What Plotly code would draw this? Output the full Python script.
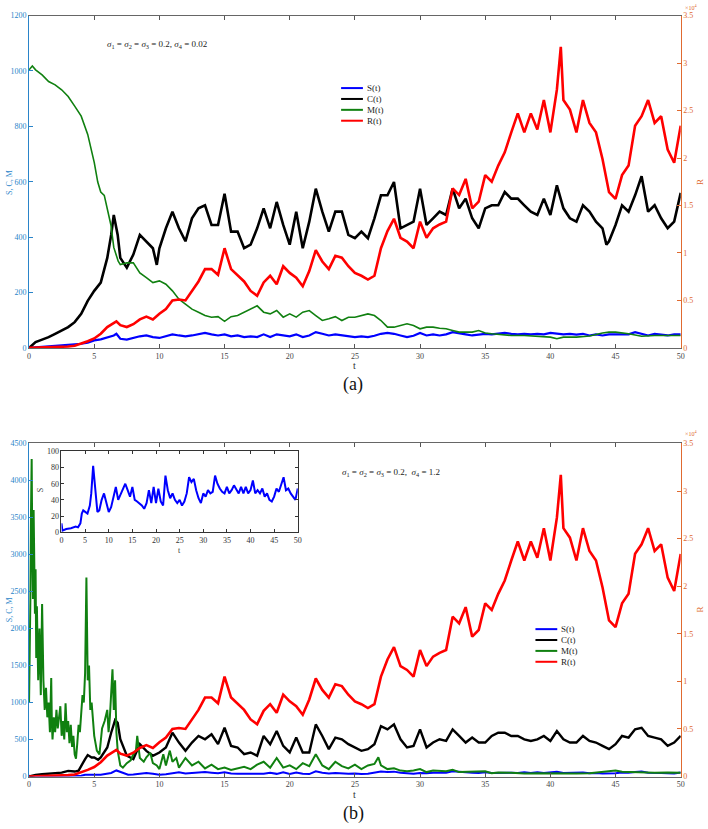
import plotly.graph_objects as go

# ---------------- data ----------------
# Panel (a): sigma4 = 0.02
S_a = [(0,0),(1,4),(2,6),(3,10),(4,15),(4.5,19),(5,27),(5.5,31),(6,37),(6.5,45),(6.7,51),(7,33),(7.5,30),(8,37),(8.5,42),(9,45),(9.5,39),(10,36),(10.5,42),(11,49),(11.5,45),(12,42),(12.5,45),(13,49),(13.5,54),(14,49),(14.5,45),(15,49),(15.5,42),(16,45),(16.5,39),(17,42),(17.5,39),(18,49),(18.5,39),(19,49),(19.5,45),(20,42),(20.5,49),(21,39),(21.5,45),(22,57),(22.5,51),(23,45),(23.5,49),(24,45),(24.5,42),(25,39),(25.5,42),(26,39),(26.5,44),(27,51),(27.5,54),(28,51),(28.5,45),(29,39),(29.5,44),(30,54),(30.5,45),(31,49),(31.5,45),(32,49),(32.5,57),(33,54),(33.5,49),(34,45),(34.5,49),(35,51),(35.5,49),(36,51),(36.5,54),(37,51),(37.5,49),(38,51),(38.5,49),(39,51),(39.5,49),(40,54),(40.5,51),(41,49),(41.5,51),(42,48),(42.5,51),(43,45),(43.5,49),(44,45),(44.5,49),(45,49),(45.5,51),(46,49),(46.5,57),(47,51),(47.5,45),(48,51),(48.5,49),(49,45),(49.5,49),(50,49)]

C_a = [(0,0),(0.5,21),(1,30),(1.5,39),(2,51),(2.5,63),(3,75),(3.5,93),(4,123),(4.5,170),(5,206),(5.5,236),(6,325),(6.3,408),(6.5,480),(6.8,408),(7,325),(7.5,290),(8,337),(8.5,408),(9,385),(9.5,360),(9.8,300),(10,360),(10.5,432),(11,492),(11.5,432),(12,385),(12.5,468),(13,504),(13.5,515),(14,444),(14.5,444),(15,557),(15.5,420),(16,420),(16.5,360),(17,373),(17.5,432),(18,504),(18.5,432),(19,527),(19.5,444),(20,373),(20.5,492),(21,360),(21.5,456),(22,575),(22.5,492),(23,420),(23.5,492),(24,492),(24.5,408),(25,396),(25.5,420),(26,396),(26.5,468),(27,551),(27.5,551),(28,599),(28.5,432),(29,444),(29.5,456),(30,575),(30.5,444),(31,468),(31.5,492),(32,480),(32.5,575),(33,504),(33.5,539),(34,468),(34.5,432),(35,504),(35.5,515),(36,515),(36.5,563),(37,539),(37.5,539),(38,515),(38.5,492),(39,480),(39.5,539),(40,480),(40.5,587),(41,504),(41.5,468),(42,456),(42.5,515),(43,492),(43.5,456),(44,432),(44.3,373),(44.5,385),(45,444),(45.5,515),(46,492),(46.5,551),(47,620),(47.5,492),(48,515),(48.5,468),(49,432),(49.5,456),(50,560)]

M_a = [(0,1004),(0.25,1018),(0.5,1004),(1,986),(1.5,962),(2,950),(2.5,932),(3,908),(3.5,873),(4,837),(4.5,771),(5,670),(5.27,599),(5.5,563),(5.77,551),(6.28,444),(6.5,363),(6.84,313),(7,301),(7.5,307),(8,307),(8.5,271),(9,254),(9.5,236),(10,242),(10.5,230),(11,206),(11.5,176),(12,158),(12.5,140),(13,129),(13.5,117),(14,111),(14.5,113),(15,96),(15.5,113),(16,117),(16.5,129),(17,140),(17.5,152),(18,129),(18.5,123),(19,135),(19.5,111),(20,123),(20.5,111),(21,129),(21.5,135),(22,117),(22.5,99),(23,105),(23.5,113),(24,99),(24.5,111),(25,111),(25.5,117),(26,123),(26.5,117),(27,99),(27.5,75),(28,75),(28.5,81),(29,87),(29.5,81),(30,69),(30.5,75),(31,75),(31.5,71),(32,69),(32.5,63),(33,57),(33.5,57),(34,57),(34.5,63),(35,54),(35.5,51),(36,49),(36.5,45),(37,45),(38,45),(39,42),(40,39),(40.5,33),(41,39),(42,39),(43,43),(44,54),(44.5,57),(45,57),(45.5,54),(46,51),(47,42),(48,45),(49,45),(50,45)]

# R (same path in both panels), actual values
R_ab = [(0,0),(0.5,20),(1,40),(1.5,60),(2,80),(2.5,110),(3,150),(3.5,220),(4,450),(4.5,700),(5,1000),(5.5,1500),(6,2200),(6.5,2600),(6.7,2800),(7,2400),(7.5,2200),(8,2500),(8.5,3000),(9,3300),(9.5,3000),(10,3600),(10.5,4100),(11,5000),(11.5,5100),(12,5000),(12.5,6000),(13,7000),(13.5,8300),(14,8300),(14.5,7700),(15,10500),(15.5,8300),(16,7700),(16.5,7000),(17,6000),(17.5,5500),(18,6900),(18.5,7600),(19,6700),(19.5,8600),(20,7900),(20.5,7400),(21,6500),(21.5,8100),(22,10300),(22.5,9100),(23,8300),(23.5,9700),(24,9500),(24.5,8600),(25,7900),(25.5,7600),(26,7200),(26.5,7600),(27,10500),(27.5,12300),(28,13600),(28.5,11600),(29,11200),(29.5,10500),(30,13300),(30.5,11600),(31,12600),(31.5,13000),(32,13300),(32.5,16800),(33,16100),(33.5,17800),(34,14700),(34.5,15400),(35,18200),(35.5,17500),(36,19200),(36.5,20600),(37,22700),(37.5,24700),(38,22700),(38.5,24700),(39,23000),(39.5,26100),(40,22700),(40.5,27200),(40.8,31700),(41,26100),(41.5,25100),(42,22700),(42.5,26100),(43,23700),(43.5,22700),(44,19900),(44.5,16400),(45,15700),(45.5,18200),(46,19200),(46.5,23400),(47,24400),(47.5,26100),(48,23700),(48.5,24400),(49,20900),(49.5,19500),(50,23400)]

# Panel (b): sigma4 = 1.2
S_b = [(0,11),(0.2,2),(1,4),(2,5),(3,7),(3.5,6),(4,11),(4.3,23),(4.6,27),(5,25),(5.5,23),(6,33),(6.3,48),(6.7,82),(7,60),(7.3,36),(7.6,25),(8,27),(8.5,40),(9,48),(9.5,36),(10,25),(10.5,31),(11,44),(11.5,56),(12,40),(12.5,46),(13,54),(13.5,60),(14,52),(14.5,44),(15,56),(15.5,40),(16,38),(16.5,36),(17,33),(17.5,29),(18,36),(18.5,52),(19,36),(19.5,56),(20,36),(20.5,54),(21,38),(21.5,33),(22,70),(22.5,52),(23,42),(23.5,48),(24,40),(24.5,36),(25,40),(25.5,33),(26,38),(26.5,48),(27,68),(27.5,62),(28,66),(28.5,52),(29,42),(29.5,36),(30,48),(30.5,44),(31,52),(31.5,48),(32,50),(32.5,70),(33,60),(33.5,54),(34,50),(34.5,48),(35,56),(35.5,48),(36,52),(36.5,58),(37,52),(37.5,48),(38,56),(38.5,48),(39,56),(39.5,48),(40,52),(40.5,64),(41,48),(41.5,52),(42,48),(42.5,54),(43,44),(43.5,48),(44,40),(44.5,38),(45,44),(45.5,54),(46,50),(46.5,60),(47,68),(47.5,52),(48,54),(48.5,48),(49,44),(49.5,40),(50,54)]

C_b = [(0,0),(0.5,22),(1,31),(1.5,36),(2,49),(2.5,53),(3,76),(3.5,67),(3.8,80),(4,147),(4.3,236),(4.5,290),(4.8,258),(5,258),(5.3,227),(5.5,258),(6,392),(6.3,592),(6.6,762),(6.8,726),(7,503),(7.5,281),(8,236),(8.5,437),(9,347),(9.5,281),(10,325),(10.5,392),(11,592),(11.5,459),(12,347),(12.5,459),(13,548),(13.5,503),(14,570),(14.5,437),(15,659),(15.5,414),(16,392),(16.5,303),(17,325),(17.5,281),(18,548),(18.5,437),(19,615),(19.5,414),(20,325),(20.5,526),(21,325),(21.5,325),(22,704),(22.5,548),(23,370),(23.5,526),(24,503),(24.5,437),(25,392),(25.5,347),(26,370),(26.5,437),(27,681),(27.5,637),(28,704),(28.5,503),(29,392),(29.5,414),(30,637),(30.5,392),(31,459),(31.5,503),(32,481),(32.5,637),(33,548),(33.5,459),(34,526),(34.5,459),(35,459),(35.5,548),(36,592),(36.5,592),(37,548),(37.5,548),(38,503),(38.5,481),(39,503),(39.5,548),(40,481),(40.5,615),(41,503),(41.5,459),(42,459),(42.5,548),(43,481),(43.5,459),(44,414),(44.5,370),(45,437),(45.5,548),(46,526),(46.5,637),(47,659),(47.5,548),(48,526),(48.5,503),(49,414),(49.5,459),(50,548)]

M_b = [(0,1000),(0.05,1500),(0.1,2400),(0.15,3600),(0.2,4290),(0.25,3000),(0.3,2400),(0.35,3600),(0.4,3000),(0.45,2200),(0.5,2800),(0.55,1600),(0.6,2300),(0.7,1300),(0.8,2000),(0.9,1100),(1.0,2330),(1.1,1300),(1.2,900),(1.3,1200),(1.4,800),(1.5,1000),(1.6,600),(1.7,1330),(1.75,700),(1.8,500),(1.9,800),(2.0,600),(2.1,900),(2.2,650),(2.3,800),(2.4,950),(2.5,550),(2.6,750),(2.7,500),(2.8,990),(2.9,600),(3.0,750),(3.1,450),(3.2,700),(3.3,400),(3.4,550),(3.5,300),(3.6,240),(3.7,450),(3.8,700),(3.9,600),(4.0,900),(4.1,1100),(4.2,1000),(4.3,1400),(4.4,2690),(4.5,1300),(4.6,1500),(4.7,900),(4.8,1000),(4.9,700),(5.0,550),(5.2,350),(5.4,300),(5.6,650),(5.8,750),(6.0,900),(6.1,600),(6.2,800),(6.3,1100),(6.4,1450),(6.5,900),(6.6,1300),(6.7,600),(6.8,350),(6.9,250),(7.0,150),(7.2,120),(7.5,180),(7.8,220),(8.0,300),(8.2,350),(8.3,550),(8.5,250),(8.8,200),(9.0,260),(9.3,320),(9.5,180),(9.8,150),(10,100),(10.3,300),(10.5,150),(10.8,350),(11,200),(11.3,250),(11.5,120),(12,250),(12.5,150),(13,200),(13.5,110),(14,160),(14.5,100),(15,120),(15.5,90),(16,110),(16.5,130),(17,100),(17.5,160),(18,200),(18.5,120),(19,250),(19.5,120),(20,150),(20.5,100),(21,180),(21.5,140),(22,300),(22.5,150),(23,100),(23.5,200),(24,140),(24.5,110),(25,160),(25.5,100),(26,150),(26.5,170),(26.8,260),(27,150),(27.5,100),(28,110),(28.5,80),(29,70),(29.5,80),(30,100),(30.5,60),(31,80),(32,70),(32.5,90),(33,60),(34,60),(35,70),(35.5,45),(36,55),(37,50),(38,40),(39,45),(40,40),(41,45),(42,40),(43,45),(44,60),(44.5,70),(45,80),(45.5,65),(46,60),(47,50),(48,50),(49,55),(50,50)]

legend_names = ["S(t)", "C(t)", "M(t)", "R(t)"]
x_ticks = [0, 5, 10, 15, 20, 25, 30, 35, 40, 45, 50]
R_tickvals = [0, 5000, 10000, 15000, 20000, 25000, 30000, 35000]
R_ticktext = ["0", "0.5", "1", "1.5", "2", "2.5", "3", "3.5"]

# ---------------- styling ----------------
W, H = 708, 829
BLUE_AX = "#2a84c9"
ORANGE_AX = "#e06a30"
COLORS = ["#0000ff", "#000000", "#108010", "#ff0000"]
FONT = "Liberation Serif"

def split(pts):
    return [p[0] for p in pts], [p[1] for p in pts]

def px(xp):
    return xp / W

def py(yp):
    return 1 - yp / H

fig = go.Figure()

def add(pts, color, xa, ya, lw):
    x, y = split(pts)
    fig.add_trace(go.Scatter(x=x, y=y, mode="lines", line=dict(color=color, width=lw),
                             xaxis=xa, yaxis=ya, showlegend=False, hoverinfo="skip"))

# panel a
add(S_a, COLORS[0], "x", "y", 2.2)
add(C_a, COLORS[1], "x", "y", 2.6)
add(M_a, COLORS[2], "x", "y", 1.6)
add(R_ab, COLORS[3], "x", "y2", 2.6)
# panel b
add(S_b, COLORS[0], "x2", "y3", 2.0)
add(C_b, COLORS[1], "x2", "y3", 2.4)
add(M_b, COLORS[2], "x2", "y3", 2.0)
add(R_ab, COLORS[3], "x2", "y4", 2.6)
# inset
add(S_b, COLORS[0], "x3", "y5", 2.0)

XD = [px(27.3), px(684.5)]
A_Y = [py(347.7), py(11.7)]
B_Y = [py(781), py(444.3)]

tickfont = dict(family=FONT, size=8, color="#444444")
def xax(domain, anchor):
    return dict(domain=domain, anchor=anchor, range=[0, 50], tickvals=x_ticks,
                ticks="inside", ticklen=4, tickcolor="#555555", mirror="ticks",
                showline=True, linecolor="#666666", linewidth=1, showgrid=False,
                zeroline=False, tickfont=tickfont)

def yleft(domain, anchor, rng, dtick):
    return dict(domain=domain, anchor=anchor, range=rng, dtick=dtick,
                ticks="inside", ticklen=4, tickcolor=BLUE_AX, showline=True,
                linecolor=BLUE_AX, linewidth=1, showgrid=False, zeroline=False,
                tickfont=dict(family=FONT, size=8, color=BLUE_AX))

def yright(overlay, anchor):
    return dict(overlaying=overlay, anchor=anchor, side="right", range=[0, 35000],
                tickvals=R_tickvals, ticktext=R_ticktext, ticks="inside", ticklen=4,
                tickcolor=ORANGE_AX, showline=True, linecolor=ORANGE_AX, linewidth=1,
                showgrid=False, zeroline=False,
                tickfont=dict(family=FONT, size=8, color=ORANGE_AX))

fig.update_layout(
    width=W, height=H, margin=dict(l=0, r=0, t=0, b=0),
    paper_bgcolor="white", plot_bgcolor="white", showlegend=False,
    xaxis=xax(XD, "y"),
    yaxis=yleft(A_Y, "x", [0, 1200], 200),
    yaxis2=yright("y", "x"),
    xaxis2=xax(XD, "y3"),
    yaxis3=yleft(B_Y, "x2", [0, 4500], 500),
    yaxis4=yright("y3", "x2"),
    xaxis3=dict(domain=[px(60), px(298.3)], anchor="y5", range=[0, 50], tickvals=x_ticks,
                ticks="inside", ticklen=3, tickcolor="#333333", mirror="ticks",
                showline=True, linecolor="#333333", linewidth=1, showgrid=False,
                zeroline=False, tickfont=dict(family=FONT, size=8, color="#333333")),
    yaxis5=dict(domain=[py(534), py(452.3)], anchor="x3", range=[0, 100], dtick=20,
                ticks="inside", ticklen=3, tickcolor="#333333", mirror="ticks",
                showline=True, linecolor="#333333", linewidth=1, showgrid=False,
                zeroline=False, tickfont=dict(family=FONT, size=8, color="#333333")),
)

ann = []
def txt(x, y, s, size=9, color="#333333", angle=0, xanchor="center"):
    ann.append(dict(x=px(x), y=py(y), xref="paper", yref="paper", text=s, showarrow=False,
                    font=dict(family=FONT, size=size, color=color), textangle=angle,
                    xanchor=xanchor, yanchor="middle"))

# axis titles
txt(7, 180, "S, C, M", 8, BLUE_AX, -90)
txt(7, 612, "S, C, M", 8, BLUE_AX, -90)
txt(704, 180, "R", 9, ORANGE_AX, -90)
txt(704, 612, "R", 9, ORANGE_AX, -90)
txt(356, 365, "t", 10, "#333333")
txt(356, 799, "t", 10, "#333333")
txt(695, 3, "×10<sup>4</sup>", 6, ORANGE_AX)
txt(695, 434, "×10<sup>4</sup>", 6, ORANGE_AX)
txt(354, 385, "(a)", 18, "#111111")
txt(354, 818, "(b)", 18, "#111111")
# inset titles
txt(39, 492, "S", 8, "#333333", -90)
txt(179, 552, "t", 8, "#333333")
# sigma notes
txt(104, 41, "<i>σ</i><sub>1</sub> = <i>σ</i><sub>2</sub> = <i>σ</i><sub>3</sub> = 0.2, <i>σ</i><sub>4</sub> = 0.02",
    9, "#222222", xanchor="left")
txt(341, 474, "<i>σ</i><sub>1</sub> = <i>σ</i><sub>2</sub> = <i>σ</i><sub>3</sub> = 0.2,  <i>σ</i><sub>4</sub> = 1.2",
    9, "#222222", xanchor="left")

# manual legends
shapes = []
for (lx0, ly0) in [(342, 85), (538, 632)]:
    for i, name in enumerate(legend_names):
        yy = ly0 + 11 * i
        shapes.append(dict(type="line", xref="paper", yref="paper",
                           x0=px(lx0), x1=px(lx0 + 22), y0=py(yy), y1=py(yy),
                           line=dict(color=COLORS[i], width=2)))
        txt(lx0 + 24, yy, name, 9, "#222222", xanchor="left")

fig.update_layout(annotations=ann, shapes=shapes)
fig.write_html("out.html")
